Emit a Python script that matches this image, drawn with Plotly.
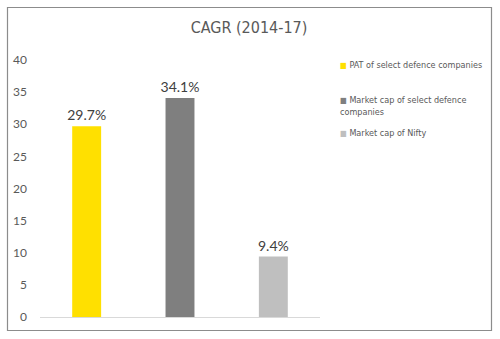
import plotly.graph_objects as go

categories = ["PAT of select defence companies",
              "Market cap of select defence companies",
              "Market cap of Nifty"]
values = [29.7, 34.1, 9.4]
colors = ["#FFE000", "#7F7F7F", "#BFBFBF"]
legend_labels = ["PAT of select defence companies",
                 "Market cap of select defence<br>companies",
                 "Market cap of Nifty"]
y_ticks = [0, 5, 10, 15, 20, 25, 30, 35, 40]
title_text = "CAGR (2014-17)"

COND = "DejaVu Sans Condensed, DejaVu Sans, sans-serif"
ST = "font-stretch:condensed"


def cond(s):
    return "<br>".join(f"<span style='{ST}'>{p}</span>" for p in s.split("<br>"))


fig = go.Figure()
fig.add_trace(go.Bar(
    x=categories, y=values,
    marker=dict(color=colors, line=dict(width=0)),
    text=[f"{v:.1f}%" for v in values],
    textposition="outside",
    textfont=dict(family="Lato, Carlito, sans-serif", size=14, color="#404040"),
    cliponaxis=False,
    width=0.31,
    showlegend=False,
))

# legend as annotations
leg_y = [64.5, 99.5, 132.5]
for lab, col, yy in zip(legend_labels, colors, leg_y):
    two = "<br>" in lab
    fig.add_annotation(
        xref="paper", yref="paper", x=(337.5 - 40) / 280, y=1 - (yy - 60) / 257,
        xanchor="left", yanchor="top" if two else "middle",
        yshift=7 if two else 0,
        align="left", showarrow=False,
        text=f"<span style='color:{col};font-size:8px'>■</span>" + cond(" " + lab),
        font=dict(family=COND, size=9, color="#595959"),
    )

fig.update_layout(
    width=500, height=339,
    margin=dict(l=40, r=180, t=60, b=22),
    paper_bgcolor="white", plot_bgcolor="white",
    title=dict(text=cond(title_text), x=249 / 500, xanchor="center", y=1 - 27 / 339, yanchor="middle",
               font=dict(family=COND, size=16, color="#595959")),
    xaxis=dict(showticklabels=False, showline=True, linecolor="#D9D9D9", linewidth=1,
               showgrid=False, ticks="", range=[-0.5, 2.5], fixedrange=True),
    yaxis=dict(range=[0, 40], tickvals=y_ticks, showgrid=False, zeroline=False, showline=False,
               tickfont=dict(family="Lato, Carlito, sans-serif", size=12, color="#595959"),
               ticks="", ticklabelstandoff=12),
    bargap=0.69,
    shapes=[dict(type="rect", xref="paper", yref="paper",
                 x0=(7.5 - 40) / 280, x1=(491.5 - 40) / 280,
                 y0=1 - (330.5 - 60) / 257, y1=1 - (7.5 - 60) / 257,
                 line=dict(color="#8C8C8C", width=1.2), layer="below")],
    showlegend=False,
)
fig.update_traces(constraintext="none")

fig.write_html("out.html")
